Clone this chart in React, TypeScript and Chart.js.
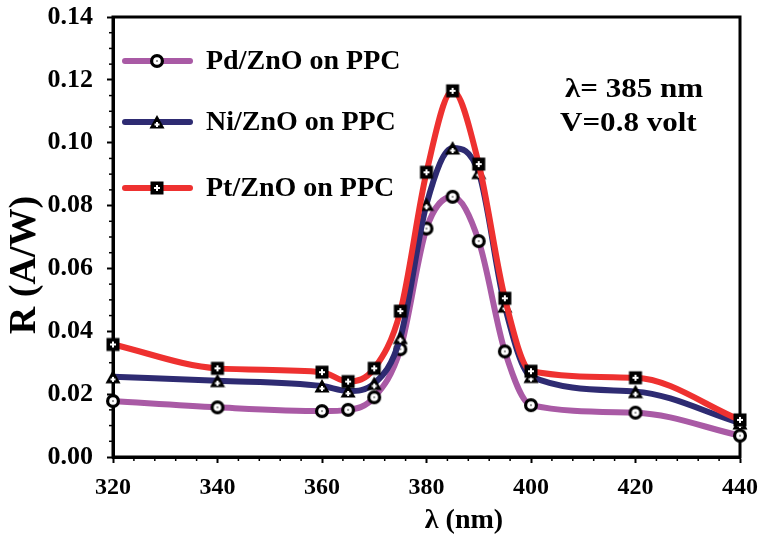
import React, { useEffect, useRef } from "react";
import { Chart, registerables } from "chart.js";

Chart.register(...registerables);

// Responsivity spectra of the three photodetectors
const wavelengths = [320, 340, 360, 365, 370, 375, 380, 385, 390, 395, 400, 420, 440];
const pdZnO = [0.0178, 0.0158, 0.0146, 0.015, 0.019, 0.0343, 0.0727, 0.0828, 0.0687, 0.0336, 0.0165, 0.0141, 0.0068];
const niZnO = [0.0255, 0.0243, 0.0226, 0.021, 0.0234, 0.038, 0.0804, 0.0983, 0.0905, 0.048, 0.0256, 0.0208, 0.0108];
const ptZnO = [0.0358, 0.0282, 0.027, 0.024, 0.0282, 0.0464, 0.0906, 0.1165, 0.0932, 0.0505, 0.0273, 0.0252, 0.0118];

const seriesNames = ["Pd/ZnO on PPC", "Ni/ZnO on PPC", "Pt/ZnO on PPC"];
const seriesColors = ["#A95AA5", "#2E2B72", "#EE3130"];
const xTitle = "λ (nm)";
const yTitle = "R (A/W)";
const noteLines = ["λ= 385 nm", "V=0.8 volt"];

const FONT = "'Liberation Serif', 'Times New Roman', serif";

function makeMarker(kind: "circle" | "triangle" | "square"): HTMLCanvasElement {
  const c = document.createElement("canvas");
  c.width = 16;
  c.height = 16;
  const g = c.getContext("2d")!;
  const cx = 8;
  const cy = 8;
  g.fillStyle = "#000";
  if (kind === "circle") {
    g.beginPath();
    g.arc(cx, cy, 7, 0, Math.PI * 2);
    g.fill();
    g.fillStyle = "#fff";
    g.beginPath();
    g.arc(cx, cy, 3.8, 0, Math.PI * 2);
    g.fill();
    g.fillStyle = "#999";
    g.fillRect(cx - 1, cy - 1, 2, 2);
  } else if (kind === "square") {
    g.fillRect(1.5, 1.5, 13, 13);
    g.fillStyle = "#fff";
    g.fillRect(cx - 1, cy - 3, 2, 6);
    g.fillRect(cx - 3, cy - 1, 6, 2);
  } else {
    g.beginPath();
    g.moveTo(cx, 1);
    g.lineTo(15.5, 14.5);
    g.lineTo(0.5, 14.5);
    g.closePath();
    g.fill();
    g.fillStyle = "#fff";
    g.fillRect(cx - 1, 8, 2, 5);
    g.fillRect(cx - 2.5, 9.5, 5, 2);
  }
  return c;
}

export default function App() {
  const ref = useRef<HTMLCanvasElement | null>(null);

  useEffect(() => {
    const canvas = ref.current;
    if (!canvas) return;
    const markers = [makeMarker("circle"), makeMarker("triangle"), makeMarker("square")];
    const seriesValues = [pdZnO, niZnO, ptZnO];

    const decorations = {
      id: "decorations",
      beforeDatasetsDraw(chart: any) {
        const { ctx, chartArea } = chart;
        const xs = chart.scales.x;
        const ys = chart.scales.y;
        ctx.save();
        ctx.strokeStyle = "#000";
        // minor ticks
        ctx.lineWidth = 1.5;
        for (let v = 0; v <= 0.1401; v += 0.005) {
          if (Math.abs(v / 0.02 - Math.round(v / 0.02)) < 1e-6) continue;
          const y = ys.getPixelForValue(v);
          ctx.beginPath();
          ctx.moveTo(chartArea.left - 4, y);
          ctx.lineTo(chartArea.left, y);
          ctx.stroke();
        }
        for (let v = 320; v <= 440; v += 4) {
          if (v % 20 === 0) continue;
          const x = xs.getPixelForValue(v);
          ctx.beginPath();
          ctx.moveTo(x, chartArea.bottom);
          ctx.lineTo(x, chartArea.bottom + 4);
          ctx.stroke();
        }
        // plot frame
        ctx.lineWidth = 3;
        ctx.strokeRect(chartArea.left, chartArea.top, chartArea.right - chartArea.left, chartArea.bottom - chartArea.top);
        ctx.restore();
      },
      afterDraw(chart: any) {
        const { ctx } = chart;
        ctx.save();
        ctx.fillStyle = "#000";
        // legend
        const rows = [61, 122, 188];
        rows.forEach((ry, i) => {
          ctx.strokeStyle = seriesColors[i];
          ctx.lineWidth = 6;
          ctx.lineCap = "round";
          ctx.beginPath();
          ctx.moveTo(125, ry);
          ctx.lineTo(190, ry);
          ctx.stroke();
          const m = markers[i];
          ctx.drawImage(m, 157 - m.width / 2, ry - m.height / 2);
          ctx.font = `bold 28px ${FONT}`;
          ctx.textAlign = "left";
          ctx.textBaseline = "middle";
          ctx.fillText(seriesNames[i], 206, ry + 1);
        });
        // annotation
        ctx.font = `bold 27px ${FONT}`;
        ctx.textAlign = "left";
        ctx.textBaseline = "alphabetic";
        ctx.save();
        ctx.translate(565, 97);
        ctx.scale(1.15, 1);
        ctx.fillText(noteLines[0], 0, 0);
        ctx.restore();
        ctx.save();
        ctx.translate(560, 131);
        ctx.scale(1.15, 1);
        ctx.fillText(noteLines[1], 0, 0);
        ctx.restore();
        // axis titles
        ctx.font = `bold 28px ${FONT}`;
        ctx.textAlign = "center";
        ctx.textBaseline = "middle";
        ctx.fillText(xTitle, 464, 521);
        ctx.save();
        ctx.translate(25, 265);
        ctx.rotate(-Math.PI / 2);
        ctx.font = `bold 38px ${FONT}`;
        ctx.fillText(yTitle, 0, 0);
        ctx.restore();
        ctx.restore();
      },
    };

    const noScalePadding = (s: any) => {
      s.paddingLeft = 0;
      s.paddingRight = 0;
      s.paddingTop = 0;
      s.paddingBottom = 0;
    };

    const chart = new Chart(canvas, {
      type: "line",
      data: {
        datasets: seriesNames.map((name, i) => ({
          label: name,
          data: wavelengths.map((w, k) => ({ x: w, y: seriesValues[i][k] })),
          borderColor: seriesColors[i],
          backgroundColor: seriesColors[i],
          borderWidth: 6,
          cubicInterpolationMode: "monotone" as const,
          pointStyle: markers[i] as any,
          pointRadius: 7,
          clip: false as any,
          order: 3 - i,
        })),
      },
      options: {
        animation: false,
        responsive: false,
        devicePixelRatio: 1,
        layout: { padding: { left: 0, right: 19, top: 17, bottom: 0 } },
        plugins: { legend: { display: false }, tooltip: { enabled: false } },
        scales: {
          x: {
            type: "linear",
            min: 320,
            max: 440,
            ticks: {
              stepSize: 20,
              color: "#000",
              padding: 10,
              font: { family: FONT, size: 24, weight: "bold" },
            },
            grid: { display: true, drawOnChartArea: false, drawTicks: true, tickLength: 6, tickWidth: 2, tickColor: "#000" },
            border: { display: true, color: "#000", width: 3 },
            afterFit: (s: any) => {
              s.height = 87;
              noScalePadding(s);
            },
          },
          y: {
            type: "linear",
            min: 0,
            max: 0.14,
            ticks: {
              stepSize: 0.02,
              color: "#000",
              padding: 14,
              font: { family: FONT, size: 26, weight: "bold" },
              callback: (v: any) => Number(v).toFixed(2),
            },
            grid: { display: true, drawOnChartArea: false, drawTicks: true, tickLength: 6, tickWidth: 2, tickColor: "#000" },
            border: { display: true, color: "#000", width: 3 },
            afterFit: (s: any) => {
              s.width = 113;
              noScalePadding(s);
            },
          },
        },
      },
      plugins: [decorations],
    });
    return () => chart.destroy();
  }, []);

  return (
    <div style={{ position: "fixed", left: 0, top: 0, width: 759, height: 544, background: "#fff" }}>
      <canvas ref={ref} width={759} height={544} style={{ width: 759, height: 544, display: "block" }} />
    </div>
  );
}
